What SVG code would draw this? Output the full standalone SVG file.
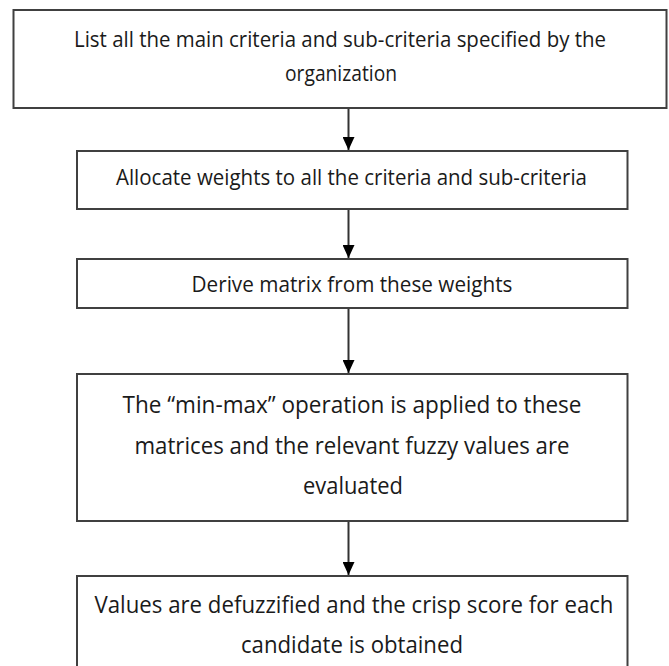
<svg xmlns="http://www.w3.org/2000/svg" width="669" height="666" viewBox="0 0 669 666">
<style>
.box{fill:#fff;stroke:#404040;stroke-width:2}
.t{font-family:"Open Sans","Liberation Sans",sans-serif;font-size:21px;fill:#1a1a1a;text-anchor:middle}
.tl{font-size:23.5px}
.c{stroke:#333;stroke-width:2;fill:none}
</style>
<defs>
<marker id="ah" markerWidth="13" markerHeight="12" refX="13" refY="6" orient="auto" markerUnits="userSpaceOnUse" viewBox="0 0 13 12">
<path d="M0,0 L13,6 L0,12 Z" fill="#000"/>
</marker>
</defs>
<rect width="669" height="666" fill="#fff"/>
<g id="connectors">
<line class="c" x1="348.5" y1="109" x2="348.5" y2="150" marker-end="url(#ah)"/>
<line class="c" x1="348.5" y1="210" x2="348.5" y2="258" marker-end="url(#ah)"/>
<line class="c" x1="348.5" y1="309" x2="348.5" y2="373" marker-end="url(#ah)"/>
<line class="c" x1="348.5" y1="522" x2="348.5" y2="575" marker-end="url(#ah)"/>
</g>
<g id="n1">
<rect class="box" x="13.5" y="10" width="653" height="98"/>
<text class="t" x="340" y="47" textLength="532" lengthAdjust="spacingAndGlyphs">List all the main criteria and sub-criteria specified by the</text>
<text class="t" x="341" y="81" textLength="112" lengthAdjust="spacingAndGlyphs">organization</text>
</g>
<g id="n2">
<rect class="box" x="77" y="151" width="550.5" height="58"/>
<text class="t" x="351.5" y="185" textLength="471" lengthAdjust="spacingAndGlyphs">Allocate weights to all the criteria and sub-criteria</text>
</g>
<g id="n3">
<rect class="box" x="77" y="259" width="550.5" height="49"/>
<text class="t" x="352" y="292" textLength="321" lengthAdjust="spacingAndGlyphs">Derive matrix from these weights</text>
</g>
<g id="n4">
<rect class="box" x="77" y="374" width="550.5" height="147"/>
<text class="t tl" x="352" y="413" textLength="459" lengthAdjust="spacingAndGlyphs">The “min-max” operation is applied to these</text>
<text class="t tl" x="352" y="454" textLength="435" lengthAdjust="spacingAndGlyphs">matrices and the relevant fuzzy values are</text>
<text class="t tl" x="353" y="494" textLength="100" lengthAdjust="spacingAndGlyphs">evaluated</text>
</g>
<g id="n5">
<rect class="box" x="77" y="576" width="550.5" height="100"/>
<text class="t tl" x="354" y="613" textLength="519" lengthAdjust="spacingAndGlyphs">Values are defuzzified and the crisp score for each</text>
<text class="t tl" x="352" y="653" textLength="222" lengthAdjust="spacingAndGlyphs">candidate is obtained</text>
</g>
</svg>
